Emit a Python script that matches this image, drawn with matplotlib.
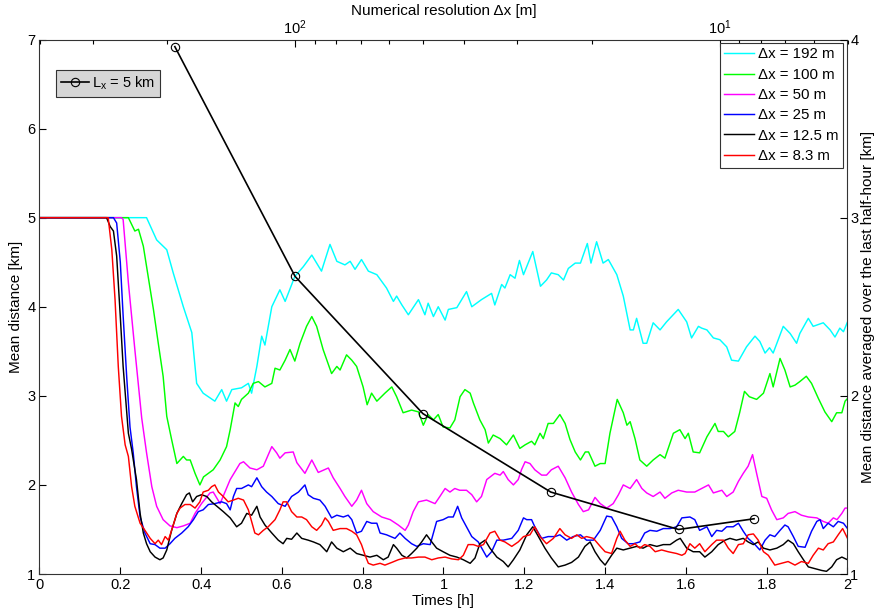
import matplotlib
matplotlib.use("Agg")
import matplotlib.pyplot as plt
from matplotlib.ticker import NullFormatter, LogLocator, FixedLocator

plt.rcParams['font.family'] = ['Liberation Sans', 'DejaVu Sans']
plt.rcParams['mathtext.fontset'] = 'custom'
plt.rcParams['mathtext.rm'] = 'Liberation Sans'
plt.rcParams['mathtext.it'] = 'Liberation Sans:italic'
plt.rcParams['font.size'] = 10.5

# ---------------- data ----------------
t_192 = [0, 0.265, 0.29, 0.315, 0.331, 0.356, 0.377, 0.389, 0.405, 0.434,
         0.451, 0.463, 0.476, 0.50, 0.517, 0.525, 0.538, 0.55, 0.558, 0.575,
         0.595, 0.608, 0.632, 0.653, 0.674, 0.698, 0.719, 0.736, 0.756, 0.769,
         0.781, 0.797, 0.814, 0.835, 0.859, 0.876, 0.884, 0.897, 0.913, 0.938,
         0.954, 0.962, 0.975, 0.987, 1.004, 1.012, 1.033, 1.057, 1.07, 1.094,
         1.119, 1.127, 1.144, 1.152, 1.165, 1.177, 1.188, 1.198, 1.221, 1.24,
         1.255, 1.267, 1.284, 1.297, 1.309, 1.326, 1.339, 1.356, 1.365, 1.379,
         1.395, 1.408, 1.429, 1.445, 1.462, 1.47, 1.478, 1.494, 1.503, 1.519,
         1.536, 1.552, 1.581, 1.602, 1.614, 1.631, 1.639, 1.652, 1.668, 1.684,
         1.701, 1.713, 1.73, 1.75, 1.771, 1.783, 1.796, 1.807, 1.816, 1.841,
         1.858, 1.874, 1.882, 1.903, 1.915, 1.94, 1.957, 1.969, 1.981, 1.99,
         2.0]
d_192 = [5, 5, 4.75, 4.64, 4.38, 4.0, 3.71, 3.14, 3.03, 2.94,
         3.07, 2.94, 3.07, 3.09, 3.14, 3.03, 3.33, 3.67, 3.57, 4.0,
         4.19, 4.06, 4.34, 4.45, 4.58, 4.40, 4.70, 4.51, 4.47, 4.51,
         4.42, 4.53, 4.40, 4.36, 4.21, 4.06, 4.12, 4.02, 3.91, 4.08,
         3.91, 4.04, 3.89, 4.0, 3.85, 3.97, 3.99, 4.17, 4.0, 4.08,
         4.15, 4.02, 4.25, 4.21, 4.36, 4.32, 4.52, 4.36, 4.62, 4.23,
         4.30, 4.38, 4.36, 4.30, 4.43, 4.49, 4.49, 4.71, 4.49, 4.73,
         4.49, 4.53, 4.36, 4.12, 3.74, 3.74, 3.87, 3.59, 3.59, 3.82,
         3.74, 3.83, 3.97, 3.83, 3.65, 3.78, 3.76, 3.74, 3.65, 3.63,
         3.55, 3.40, 3.39, 3.55, 3.67, 3.61, 3.48, 3.54, 3.48, 3.78,
         3.70, 3.59, 3.70, 3.87, 3.78, 3.82, 3.74, 3.66, 3.76, 3.72,
         3.83]

t_100 = [0, 0.22, 0.236, 0.245, 0.257, 0.269, 0.282, 0.294, 0.306, 0.315,
         0.327, 0.34, 0.356, 0.364, 0.373, 0.385, 0.397, 0.406, 0.418, 0.43,
         0.447, 0.463, 0.472, 0.484, 0.492, 0.50, 0.517, 0.529, 0.542, 0.558,
         0.575, 0.583, 0.595, 0.608, 0.62, 0.632, 0.645, 0.661, 0.674, 0.686,
         0.702, 0.723, 0.736, 0.744, 0.76, 0.773, 0.785, 0.801, 0.811, 0.822,
         0.835, 0.855, 0.872, 0.884, 0.90, 0.921, 0.938, 0.95, 0.962, 0.975,
         0.987, 0.999, 1.016, 1.028, 1.041, 1.053, 1.066, 1.074, 1.09, 1.103,
         1.111, 1.123, 1.14, 1.156, 1.173, 1.189, 1.202, 1.218, 1.226, 1.239,
         1.247, 1.259, 1.272, 1.288, 1.301, 1.313, 1.326, 1.339, 1.351, 1.359,
         1.375, 1.388, 1.40, 1.412, 1.43, 1.445, 1.454, 1.462, 1.474, 1.486,
         1.503, 1.519, 1.536, 1.548, 1.569, 1.585, 1.598, 1.606, 1.618, 1.634,
         1.652, 1.672, 1.68, 1.693, 1.705, 1.721, 1.733, 1.745, 1.757, 1.775,
         1.792, 1.808, 1.816, 1.833, 1.845, 1.858, 1.87, 1.882, 1.898, 1.911,
         1.928, 1.944, 1.961, 1.973, 1.986, 1.994, 2.0]
d_100 = [5, 5, 4.85, 4.87, 4.68, 4.34, 3.97, 3.59, 3.22, 2.77,
         2.51, 2.24, 2.32, 2.28, 2.28, 2.13, 2.0, 2.09, 2.13, 2.17,
         2.28, 2.43, 2.62, 2.92, 2.88, 2.96, 3.03, 3.14, 3.16, 3.10,
         3.14, 3.31, 3.29, 3.40, 3.52, 3.39, 3.59, 3.78, 3.89, 3.78,
         3.52, 3.25, 3.33, 3.29, 3.46, 3.40, 3.33, 3.10, 2.90, 3.03,
         2.94, 3.03, 3.10, 2.99, 2.81, 2.84, 2.82, 2.67, 2.79, 2.73,
         2.79, 2.65, 2.64, 2.73, 2.99, 3.07, 3.03, 2.92, 2.73, 2.62,
         2.47, 2.56, 2.52, 2.45, 2.56, 2.41, 2.45, 2.49, 2.45, 2.58,
         2.52, 2.69, 2.69, 2.79, 2.69, 2.51, 2.37, 2.28, 2.37, 2.37,
         2.21, 2.24, 2.24, 2.58, 2.96, 2.81, 2.67, 2.71, 2.52, 2.28,
         2.21, 2.28, 2.34, 2.30, 2.58, 2.62, 2.52, 2.58, 2.37, 2.36,
         2.54, 2.69, 2.60, 2.60, 2.54, 2.60, 2.81, 3.05, 2.99, 2.96,
         3.03, 3.25, 3.10, 3.42, 3.29, 3.10, 3.12, 3.16, 3.22, 3.14,
         2.97, 2.82, 2.71, 2.81, 2.81, 2.94, 2.97]

t_50 = [0, 0.203, 0.207, 0.22, 0.236, 0.253, 0.265, 0.278, 0.29, 0.306,
        0.323, 0.34, 0.356, 0.373, 0.385, 0.401, 0.422, 0.43, 0.447, 0.472,
        0.496, 0.505, 0.521, 0.538, 0.554, 0.575, 0.587, 0.595, 0.608, 0.628,
        0.637, 0.657, 0.674, 0.69, 0.715, 0.727, 0.744, 0.756, 0.773, 0.785,
        0.797, 0.81, 0.826, 0.847, 0.868, 0.888, 0.905, 0.913, 0.925, 0.938,
        0.958, 0.979, 0.991, 1.004, 1.016, 1.028, 1.04, 1.057, 1.07, 1.082,
        1.094, 1.107, 1.127, 1.14, 1.148, 1.16, 1.173, 1.185, 1.193, 1.202,
        1.214, 1.226, 1.243, 1.255, 1.267, 1.284, 1.301, 1.317, 1.334, 1.346,
        1.359, 1.375, 1.388, 1.404, 1.42, 1.433, 1.445, 1.462, 1.478, 1.491,
        1.503, 1.519, 1.536, 1.548, 1.565, 1.581, 1.602, 1.622, 1.639, 1.656,
        1.668, 1.689, 1.701, 1.717, 1.73, 1.742, 1.754, 1.765, 1.775, 1.788,
        1.80, 1.812, 1.825, 1.841, 1.853, 1.87, 1.886, 1.903, 1.924, 1.94,
        1.952, 1.965, 1.974, 1.986, 1.994, 2.0]
d_50 = [5, 5, 4.98, 4.27, 3.52, 2.75, 2.36, 1.98, 1.76, 1.61,
        1.54, 1.52, 1.54, 1.57, 1.68, 1.79, 1.91, 1.92, 1.79, 2.06,
        2.24, 2.26, 2.19, 2.17, 2.21, 2.43, 2.36, 2.30, 2.36, 2.37,
        2.25, 2.13, 2.28, 2.14, 2.19, 2.08, 1.96, 1.87, 1.76, 1.83,
        1.94, 1.79, 1.70, 1.64, 1.61, 1.55, 1.49, 1.55, 1.70, 1.81,
        1.83, 1.79, 1.87, 1.96, 1.92, 1.96, 1.94, 1.94, 1.89, 1.81,
        1.87, 2.06, 2.13, 2.11, 2.15, 2.06, 2.0, 2.06, 2.17, 2.26,
        2.24, 2.17, 2.11, 2.11, 2.17, 2.21, 2.08, 1.92, 1.78, 1.70,
        1.72, 1.86, 1.79, 1.74, 1.79, 1.89, 2.0, 1.96, 2.06, 1.96,
        1.91, 1.87, 1.92, 1.85, 1.91, 1.94, 1.92, 1.92, 1.96, 2.0,
        1.91, 1.94, 1.87, 1.92, 2.04, 2.13, 2.21, 2.34, 2.13, 1.87,
        1.85, 1.72, 1.61, 1.63, 1.68, 1.70, 1.66, 1.64, 1.63, 1.59,
        1.57, 1.63, 1.61, 1.68, 1.74, 1.74]

t_25 = [0, 0.183, 0.191, 0.2, 0.207, 0.216, 0.224, 0.232, 0.24, 0.249,
        0.261, 0.274, 0.286, 0.298, 0.311, 0.323, 0.335, 0.352, 0.368, 0.381,
        0.393, 0.405, 0.418, 0.434, 0.451, 0.463, 0.472, 0.48, 0.488, 0.50,
        0.517, 0.525, 0.538, 0.55, 0.562, 0.575, 0.591, 0.608, 0.624, 0.641,
        0.657, 0.665, 0.678, 0.694, 0.707, 0.723, 0.736, 0.752, 0.764, 0.773,
        0.785, 0.797, 0.81, 0.822, 0.835, 0.843, 0.859, 0.88, 0.892, 0.905,
        0.921, 0.934, 0.95, 0.967, 0.975, 0.983, 0.999, 1.012, 1.024, 1.035,
        1.045, 1.057, 1.07, 1.086, 1.107, 1.119, 1.132, 1.148, 1.169, 1.185,
        1.198, 1.206, 1.218, 1.226, 1.243, 1.259, 1.276, 1.288, 1.305, 1.321,
        1.339, 1.354, 1.371, 1.388, 1.404, 1.416, 1.429, 1.441, 1.457, 1.47,
        1.486, 1.498, 1.511, 1.528, 1.544, 1.561, 1.577, 1.59, 1.61, 1.622,
        1.634, 1.652, 1.664, 1.676, 1.689, 1.701, 1.717, 1.73, 1.742, 1.754,
        1.771, 1.783, 1.796, 1.808, 1.82, 1.833, 1.845, 1.853, 1.866, 1.878,
        1.895, 1.911, 1.924, 1.932, 1.94, 1.952, 1.965, 1.977, 1.99, 2.0]
d_25 = [5, 5, 4.94, 4.5, 3.9, 3.2, 2.65, 2.36, 1.98, 1.64,
        1.46, 1.34, 1.33, 1.29, 1.29, 1.34, 1.40, 1.46, 1.53, 1.61,
        1.70, 1.72, 1.78, 1.79, 1.81, 1.79, 1.72, 1.87, 1.96, 1.96,
        2.0, 1.98, 2.08, 1.98, 1.92, 1.87, 1.79, 1.76, 1.87, 1.92,
        2.0, 1.89, 1.85, 1.83, 1.76, 1.63, 1.66, 1.64, 1.66, 1.61,
        1.46, 1.48, 1.59, 1.57, 1.57, 1.46, 1.44, 1.40, 1.46, 1.40,
        1.34, 1.31, 1.34, 1.33, 1.46, 1.59, 1.61, 1.64, 1.64, 1.76,
        1.63, 1.53, 1.42, 1.36, 1.19, 1.25, 1.38, 1.38, 1.40, 1.49,
        1.63, 1.61, 1.61, 1.53, 1.40, 1.42, 1.42, 1.44, 1.38, 1.42,
        1.44, 1.38, 1.38, 1.49, 1.65, 1.64, 1.53, 1.40, 1.34, 1.34,
        1.36, 1.46, 1.49, 1.48, 1.51, 1.51, 1.53, 1.63, 1.64, 1.61,
        1.49, 1.53, 1.42, 1.49, 1.48, 1.53, 1.53, 1.57, 1.48, 1.40,
        1.33, 1.27, 1.38, 1.44, 1.42, 1.49, 1.55, 1.53, 1.42, 1.31,
        1.30, 1.48, 1.59, 1.61, 1.51, 1.57, 1.53, 1.59, 1.57, 1.51]

t_12 = [0, 0.166, 0.175, 0.183, 0.191, 0.2, 0.207, 0.22, 0.228, 0.24,
        0.249, 0.257, 0.265, 0.274, 0.286, 0.298, 0.306, 0.315, 0.327, 0.34,
        0.352, 0.364, 0.371, 0.379, 0.389, 0.401, 0.414, 0.426, 0.439, 0.455,
        0.472, 0.488, 0.50, 0.513, 0.525, 0.538, 0.546, 0.558, 0.575, 0.591,
        0.603, 0.612, 0.624, 0.637, 0.649, 0.665, 0.678, 0.694, 0.711, 0.723,
        0.736, 0.752, 0.769, 0.785, 0.801, 0.818, 0.835, 0.851, 0.863, 0.876,
        0.884, 0.897, 0.909, 0.921, 0.934, 0.946, 0.958, 0.971, 0.983, 0.999,
        1.016, 1.033, 1.049, 1.066, 1.078, 1.09, 1.103, 1.115, 1.132, 1.148,
        1.16, 1.173, 1.189, 1.206, 1.221, 1.235, 1.251, 1.267, 1.284, 1.301,
        1.317, 1.334, 1.35, 1.363, 1.375, 1.388, 1.40, 1.416, 1.429, 1.445,
        1.462, 1.478, 1.494, 1.511, 1.528, 1.544, 1.561, 1.577, 1.586, 1.602,
        1.618, 1.634, 1.647, 1.664, 1.68, 1.697, 1.709, 1.725, 1.742, 1.754,
        1.767, 1.779, 1.792, 1.808, 1.825, 1.841, 1.853, 1.866, 1.878, 1.891,
        1.903, 1.92, 1.936, 1.948, 1.961, 1.973, 1.986, 2.0]
d_12 = [5, 5, 4.90, 4.85, 4.57, 3.89, 3.33, 2.58, 2.40, 2.06,
        1.68, 1.46, 1.34, 1.25, 1.19, 1.16, 1.18, 1.27, 1.49, 1.68,
        1.79, 1.89, 1.91, 1.81, 1.87, 1.89, 1.87, 1.81, 1.76, 1.70,
        1.63, 1.53, 1.57, 1.68, 1.66, 1.76, 1.64, 1.55, 1.46, 1.38,
        1.34, 1.40, 1.39, 1.46, 1.40, 1.38, 1.36, 1.33, 1.25, 1.36,
        1.29, 1.25, 1.29, 1.23, 1.21, 1.19, 1.21, 1.16, 1.19, 1.33,
        1.29, 1.21, 1.18, 1.23, 1.29, 1.36, 1.44, 1.36, 1.29, 1.25,
        1.21, 1.19, 1.16, 1.12, 1.18, 1.34, 1.38, 1.29, 1.19, 1.14,
        1.08, 1.16, 1.27, 1.44, 1.53, 1.42, 1.29, 1.18, 1.08, 1.10,
        1.13, 1.19, 1.31, 1.36, 1.25, 1.16, 1.10, 1.21, 1.29, 1.27,
        1.29, 1.31, 1.29, 1.33, 1.31, 1.33, 1.33, 1.38, 1.40, 1.29,
        1.25, 1.25, 1.19, 1.25, 1.33, 1.38, 1.40, 1.38, 1.40, 1.36,
        1.33, 1.36, 1.29, 1.27, 1.29, 1.33, 1.38, 1.34, 1.25, 1.16,
        1.08, 1.06, 1.04, 1.03, 1.08, 1.16, 1.19, 1.16]

t_8 = [0, 0.17, 0.179, 0.187, 0.195, 0.203, 0.212, 0.22, 0.228, 0.236,
       0.249, 0.261, 0.274, 0.286, 0.294, 0.302, 0.311, 0.319, 0.327, 0.34,
       0.348, 0.36, 0.373, 0.385, 0.397, 0.405, 0.418, 0.426, 0.434, 0.443,
       0.455, 0.467, 0.48, 0.492, 0.505, 0.517, 0.525, 0.533, 0.542, 0.554,
       0.566, 0.583, 0.595, 0.603, 0.612, 0.624, 0.637, 0.649, 0.661, 0.674,
       0.686, 0.698, 0.707, 0.715, 0.727, 0.744, 0.76, 0.773, 0.785, 0.797,
       0.806, 0.814, 0.826, 0.843, 0.855, 0.872, 0.888, 0.905, 0.921, 0.938,
       0.954, 0.971, 0.987, 1.004, 1.02, 1.037, 1.049, 1.061, 1.074, 1.086,
       1.099, 1.115, 1.127, 1.14, 1.152, 1.169, 1.185, 1.198, 1.214, 1.226,
       1.239, 1.255, 1.272, 1.288, 1.301, 1.317, 1.33, 1.342, 1.354, 1.371,
       1.388, 1.40, 1.416, 1.429, 1.437, 1.449, 1.462, 1.474, 1.486, 1.498,
       1.511, 1.524, 1.54, 1.556, 1.577, 1.59, 1.598, 1.61, 1.622, 1.634,
       1.647, 1.664, 1.676, 1.693, 1.705, 1.717, 1.73, 1.742, 1.754, 1.767,
       1.779, 1.792, 1.804, 1.82, 1.837, 1.853, 1.87, 1.886, 1.903, 1.915,
       1.928, 1.94, 1.952, 1.965, 1.977, 1.988, 2.0]
d_8 = [5, 5, 4.64, 4.08, 3.33, 2.77, 2.45, 2.32, 1.98, 1.76,
       1.57, 1.49, 1.40, 1.34, 1.38, 1.33, 1.42, 1.38, 1.49, 1.68,
       1.74, 1.78, 1.78, 1.74, 1.81, 1.92, 1.94, 1.98, 2.0, 1.92,
       1.87, 1.81, 1.83, 1.85, 1.83, 1.72, 1.59, 1.46, 1.44, 1.49,
       1.53, 1.61, 1.72, 1.81, 1.81, 1.70, 1.64, 1.64, 1.61, 1.53,
       1.49, 1.55, 1.63, 1.59, 1.49, 1.51, 1.51, 1.48, 1.44, 1.33,
       1.21, 1.12, 1.10, 1.12, 1.10, 1.13, 1.16, 1.18, 1.18, 1.19,
       1.19, 1.16, 1.18, 1.19, 1.17, 1.16, 1.21, 1.33, 1.33, 1.31,
       1.33, 1.46, 1.48, 1.38, 1.36, 1.31, 1.36, 1.42, 1.44, 1.53,
       1.42, 1.34, 1.40, 1.51, 1.44, 1.40, 1.44, 1.40, 1.42, 1.40,
       1.31, 1.25, 1.23, 1.40, 1.48, 1.38, 1.31, 1.34, 1.29, 1.33,
       1.31, 1.25, 1.27, 1.25, 1.23, 1.21, 1.23, 1.34, 1.29, 1.34,
       1.25, 1.33, 1.38, 1.38, 1.29, 1.23, 1.33, 1.34, 1.44, 1.45,
       1.38, 1.25, 1.21, 1.10, 1.12, 1.14, 1.10, 1.14, 1.12, 1.21,
       1.29, 1.27, 1.34, 1.36, 1.44, 1.51, 1.40]

series_labels = ['\u0394x = 192 m', '\u0394x = 100 m', '\u0394x = 50 m',
                 '\u0394x = 25 m', '\u0394x = 12.5 m', '\u0394x = 8.3 m']
series_colors = ['#00ffff', '#00ff00', '#ff00ff', '#0000ff', '#000000', '#ff0000']

resolution_dx = [192, 100, 50, 25, 12.5, 8.3]
resolution_avg = [3.96, 2.67, 1.90, 1.46, 1.25, 1.31]

# ---------------- figure ----------------
fig = plt.figure(figsize=(8.78, 6.12), dpi=100)
W, H = 878.0, 612.0
x0, x1, y0, y1 = 39.5, 847.5, 39.5, 574.0
ax = fig.add_axes([x0 / W, 1 - y1 / H, (x1 - x0) / W, (y1 - y0) / H])

times = [t_192, t_100, t_50, t_25, t_12, t_8]
vals = [d_192, d_100, d_50, d_25, d_12, d_8]
lines = []
for tt, vv, c, lab in zip(times, vals, series_colors, series_labels):
    ln, = ax.plot(tt, vv, color=c, lw=1.05, label=lab)
    lines.append(ln)

ax.set_xlim(0, 2)
ax.set_ylim(1, 7)
ax.set_xticks([0, 0.2, 0.4, 0.6, 0.8, 1, 1.2, 1.4, 1.6, 1.8, 2])
ax.set_xticklabels(['0', '0.2', '0.4', '0.6', '0.8', '1', '1.2', '1.4', '1.6', '1.8', '2'])
ax.set_yticks([1, 2, 3, 4, 5, 6, 7])
ax.tick_params(direction='in', length=5, width=0.8, top=False, right=False,
               labelsize=10.5, pad=3)
ax.set_xlabel('Times [h]', fontsize=11, labelpad=1)
ax.set_ylabel('Mean distance [km]', fontsize=11, labelpad=3)
for s in ax.spines.values():
    s.set_color('#333333')
    s.set_linewidth(0.8)

# top log axis (numerical resolution)
axt = ax.twiny()
axt.set_xscale('log')
axt.set_xlim(400, 5)
axt.xaxis.set_major_locator(FixedLocator([100, 10]))
axt.xaxis.set_minor_locator(LogLocator(base=10, subs=range(2, 10)))
axt.xaxis.set_minor_formatter(NullFormatter())
axt.tick_params(axis='x', which='major', direction='in', length=5, width=0.8,
                labelsize=10.5, pad=2)
axt.tick_params(axis='x', which='minor', direction='in', length=3, width=0.8)
axt.set_xlabel('Numerical resolution \u0394x [m]', fontsize=11, labelpad=2)
for s in axt.spines.values():
    s.set_visible(False)

# right axis (averaged distance)
axr = axt.twinx()
axr.set_ylim(1, 4)
axr.set_yticks([1, 2, 3, 4])
axr.tick_params(axis='y', direction='in', length=5, width=0.8, labelsize=10.5, pad=2)
axr.set_ylabel('Mean distance averaged over the last half-hour [km]', fontsize=11,
               labelpad=2)
for s in axr.spines.values():
    s.set_visible(False)
res_line, = axr.plot(resolution_dx, resolution_avg, color='black', lw=1.2,
                     marker='o', markersize=6, markerfacecolor='none',
                     markeredgecolor='black', markeredgewidth=0.8,
                     label=r'L$_\mathregular{x}$ = 5 km')

leg1 = axr.legend(handles=lines, loc='upper right',
                  bbox_to_anchor=(843.0 / W, 1 - 43.0 / H),
                  bbox_transform=fig.transFigure, borderaxespad=0,
                  fancybox=False, framealpha=1, edgecolor='#333333',
                  fontsize=10.8, handlelength=2.0, handletextpad=0.25,
                  labelspacing=0.42, borderpad=0.3)
leg1.get_frame().set_linewidth(0.8)
axr.add_artist(leg1)

leg2 = axr.legend(handles=[res_line], loc='upper left',
                  bbox_to_anchor=(56.0 / W, 1 - 69.5 / H),
                  bbox_transform=fig.transFigure, borderaxespad=0,
                  fancybox=False, framealpha=1, edgecolor='#333333',
                  facecolor='#d6d6d6', fontsize=10.5, handlelength=1.9,
                  handletextpad=0.2, borderpad=0.35)
leg2.get_frame().set_linewidth(0.8)

fig.savefig('out.png', dpi=100)
